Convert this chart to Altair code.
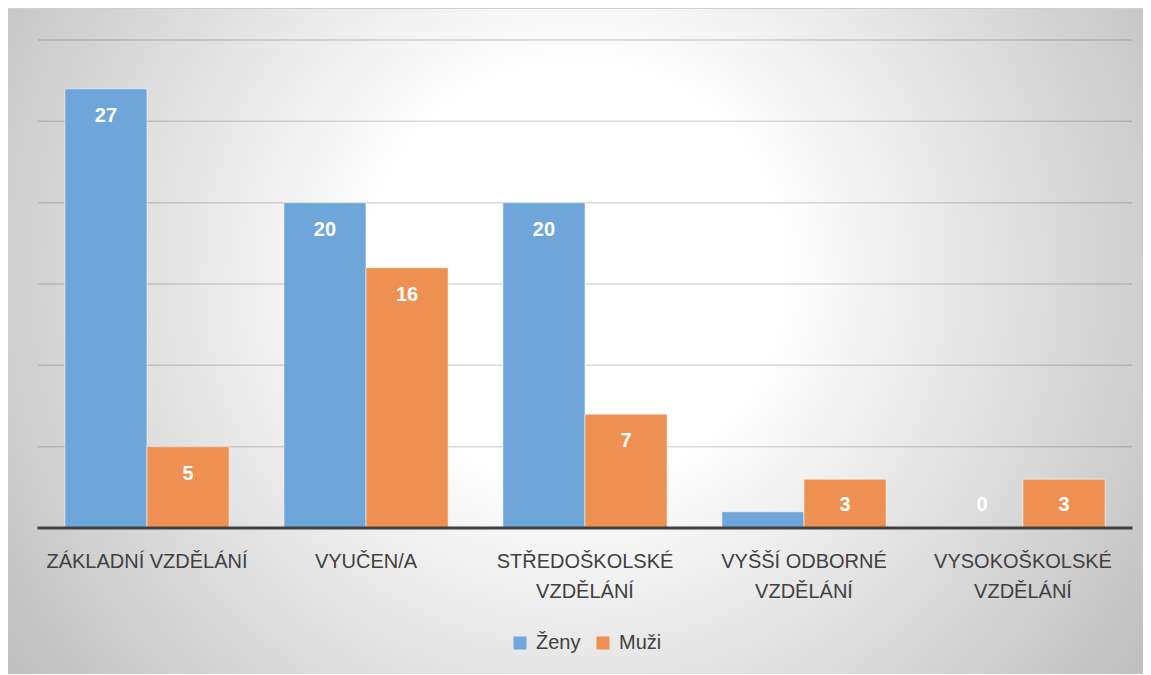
import altair as alt
import pandas as pd

categories = ["ZÁKLADNÍ VZDĚLÁNÍ", "VYUČEN/A", "STŘEDOŠKOLSKÉ\nVZDĚLÁNÍ",
              "VYŠŠÍ ODBORNÉ\nVZDĚLÁNÍ", "VYSOKOŠKOLSKÉ\nVZDĚLÁNÍ"]
series = ["Ženy", "Muži"]
zeny = [27, 20, 20, 1, 0]
muzi = [5, 16, 7, 3, 3]
zeny_labels = ["27", "20", "20", "", "0"]
muzi_labels = ["5", "16", "7", "3", "3"]
grid_values = [5, 10, 15, 20, 25, 30]
colors = ["#6fa6da", "#ee9051"]

rows = []
for i, c in enumerate(categories):
    rows.append({"cat": c, "series": "Ženy", "value": zeny[i], "label": zeny_labels[i]})
    rows.append({"cat": c, "series": "Muži", "value": muzi[i], "label": muzi_labels[i]})
df = pd.DataFrame(rows)
cat_df = pd.DataFrame({"cat": categories, "ly": [-2.459] * len(categories)})
grid_df = pd.DataFrame({"g": grid_values})
base_df = pd.DataFrame({"g": [0]})

W, H = 1135, 665
yscale = alt.Scale(domain=[-8.975, 31.906], nice=False, zero=False)
xscale = alt.Scale(domain=categories, range=[29.5, 1124.5], paddingInner=0.25, paddingOuter=0.125)
X = alt.X("cat:N", sort=categories, scale=xscale, axis=None)

bg = alt.Chart(pd.DataFrame({"a": [0]})).mark_rect(
    fill={
        "gradient": "radial",
        "x1": 0.5, "y1": 0.44, "r1": 0,
        "x2": 0.5, "y2": 0.44, "r2": 0.6,
        "stops": [
            {"offset": 0.0, "color": "#ffffff"},
            {"offset": 0.3, "color": "#ffffff"},
            {"offset": 1.0, "color": "#c0c0c0"},
        ],
    },
    stroke=None,
).encode(x=alt.value(0), x2=alt.value("width"), y=alt.value(0), y2=alt.value("height"))

grid = alt.Chart(grid_df).mark_rule(color="black", opacity=0.15, strokeWidth=1.5).encode(
    y=alt.Y("g:Q", scale=yscale, axis=None),
    x=alt.value(30), x2=alt.value(1124),
)

offset_scale = alt.Scale(domain=series, paddingInner=0, paddingOuter=0)

bars = alt.Chart(df).mark_bar(stroke="white", strokeOpacity=0.55, strokeWidth=1).encode(
    x=X,
    xOffset=alt.XOffset("series:N", sort=series, scale=offset_scale),
    y=alt.Y("value:Q", scale=yscale, axis=None),
    color=alt.Color(
        "series:N",
        sort=series,
        scale=alt.Scale(domain=series, range=colors),
        legend=alt.Legend(
            title=None, orient="none", direction="horizontal",
            legendX=502, legendY=624, padding=0,
            symbolType="square", symbolSize=169, symbolStrokeWidth=0,
            labelFont="Liberation Sans", labelFontSize=20, labelColor="#404040",
            labelOffset=6, columnPadding=12,
        ),
    ),
)

labels = alt.Chart(df).transform_calculate(
    ly="max(datum.value - 1.66, 1.41)"
).mark_text(
    color="white", font="Liberation Sans", fontWeight="bold", fontSize=20, baseline="middle", align="center"
).encode(
    x=X,
    xOffset=alt.XOffset("series:N", sort=series, scale=offset_scale),
    y=alt.Y("ly:Q", scale=yscale, axis=None),
    text="label:N",
)

baseline = alt.Chart(base_df).mark_rule(color="#404040", strokeWidth=3).encode(
    y=alt.Y("g:Q", scale=yscale, axis=None),
    x=alt.value(29.5), x2=alt.value(1124.5),
)

cat_text = alt.Chart(cat_df).mark_text(
    font="Liberation Sans", fontSize=20, color="#404040", baseline="alphabetic",
    align="center", lineBreak="\n", lineHeight=30,
).encode(
    x=X,
    y=alt.Y("ly:Q", scale=yscale, axis=None),
    text="cat:N",
)

chart = alt.layer(bg, grid, bars, labels, baseline, cat_text).properties(
    width=W, height=H,
    padding={"left": 0, "top": 1, "right": 0, "bottom": 0},
    background="white",
).configure_view(stroke="#c0c0c0", strokeWidth=1.5)

chart.save("out.html", embed_options={"renderer": "svg", "actions": False})
